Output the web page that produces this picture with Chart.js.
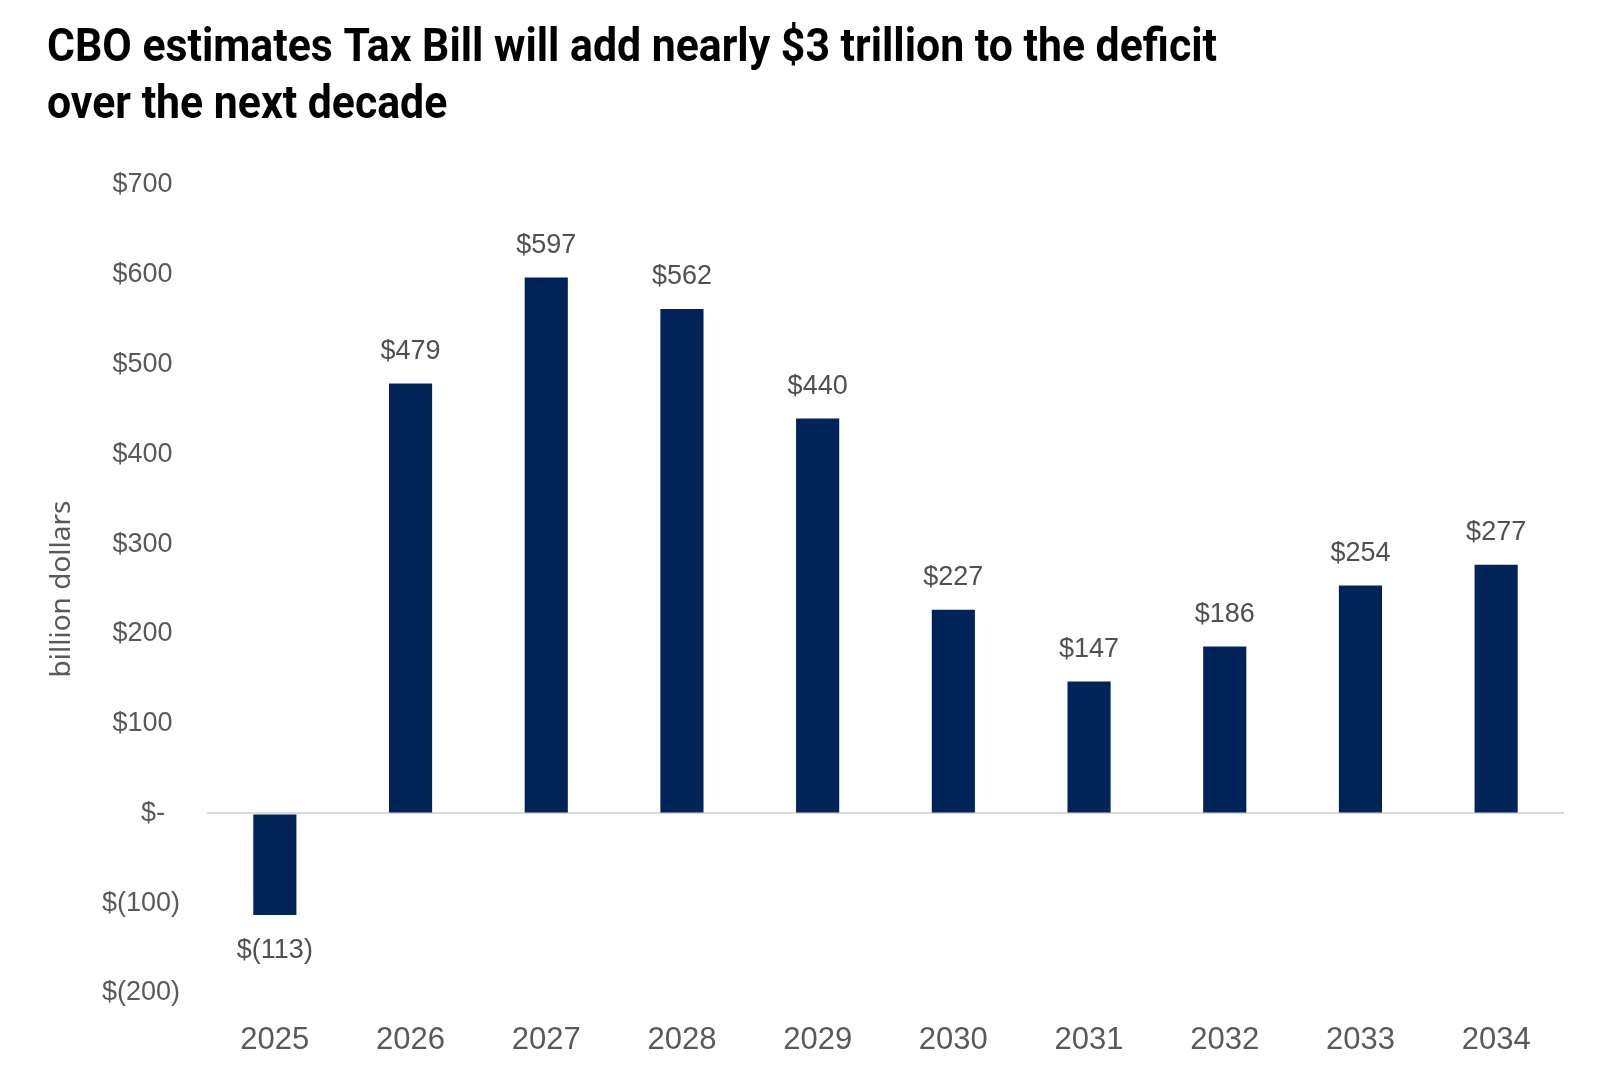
<!DOCTYPE html>
<html>
<head>
<meta charset="utf-8">
<script src="https://cdn.jsdelivr.net/npm/chart.js@4.4.1/dist/chart.umd.min.js"></script>
<style>
  html, body { margin: 0; padding: 0; background: #fff; }
  #wrap { width: 1600px; height: 1079px; }
</style>
</head>
<body>
<div id="wrap"><canvas id="chart"></canvas></div>
<script>
const years = ["2025", "2026", "2027", "2028", "2029", "2030", "2031", "2032", "2033", "2034"];
const deficitAdded = [-113, 479, 597, 562, 440, 227, 147, 186, 254, 277];
const titleLines = [
    "CBO estimates Tax Bill will add nearly $3 trillion to the deficit",
    "over the next decade",
];
const axisTitle = "billion dollars";

const textGray = "#595959";
const barColor = "#002458";

function money(v) {
    if (v === 0) return "$-  ";
    if (v < 0) return "$(" + (-v) + ")";
    return "$" + v + " ";
}

// title drawn by hand so it can be squeezed like a narrow font
const narrowTitle = {
    id: 'narrowTitle',
    afterDraw(chart) {
        const ctx = chart.ctx;
        ctx.save();
        ctx.font = 'bold 46px Roboto, "Liberation Sans", sans-serif';
        ctx.fillStyle = '#000';
        ctx.textAlign = 'left';
        ctx.textBaseline = 'alphabetic';
        ctx.translate(47, 0);
        ctx.scale(0.93, 1);
        ctx.fillText(titleLines[0], 0, 61);
        ctx.fillText(titleLines[1], 0, 118);
        ctx.restore();
    }
};

// labels above / below each bar
const barLabels = {
    id: 'barLabels',
    afterDatasetsDraw(chart) {
        const ctx = chart.ctx;
        const meta = chart.getDatasetMeta(0);
        ctx.save();
        ctx.font = '27px "Liberation Sans", Arial, sans-serif';
        ctx.fillStyle = "#505050";
        ctx.textAlign = 'center';
        ctx.textBaseline = 'middle';
        meta.data.forEach((bar, i) => {
            const v = deficitAdded[i];
            const txt = v < 0 ? "$(" + (-v) + ")" : "$" + v;
            const y = v < 0 ? bar.y + 36 : bar.y - 32;
            ctx.fillText(txt, bar.x, y);
        });
        ctx.restore();
    }
};

const ctx = document.getElementById('chart').getContext('2d');
new Chart(ctx, {
    type: 'bar',
    data: {
        labels: years,
        datasets: [{
            data: deficitAdded,
            backgroundColor: barColor,
            borderWidth: 0,
            categoryPercentage: 1,
            barPercentage: 0.318,
        }],
    },
    plugins: [barLabels, narrowTitle],
    options: {
        responsive: true,
        maintainAspectRatio: false,
        animation: false,
        layout: {
            padding: { left: 47, right: 36, top: 185, bottom: 0 },
        },
        plugins: {
            legend: { display: false },
            tooltip: { enabled: false },
            title: { display: false },
        },
        scales: {
            x: {
                grid: { display: false },
                border: { display: false },
                ticks: {
                    color: textGray,
                    padding: 21,
                    font: { family: '"Liberation Sans", Arial, sans-serif', size: 31 },
                },
                afterFit(scale) { scale.height = 86; },
            },
            y: {
                min: -200,
                max: 700,
                border: { display: false },
                grid: {
                    drawTicks: false,
                    lineWidth: 2,
                    color: c => c.tick && c.tick.value === 0 ? '#d9d9d9' : 'rgba(0,0,0,0)',
                },
                ticks: {
                    stepSize: 100,
                    color: textGray,
                    padding: 27,
                    font: { family: '"Liberation Sans", Arial, sans-serif', size: 27 },
                    callback: v => money(v),
                },
                title: {
                    display: true,
                    text: axisTitle,
                    color: textGray,
                    padding: 0,
                    font: { family: '"Noto Sans", sans-serif', size: 28, lineHeight: 1.1 },
                },
                afterFit(scale) { scale.width = 160; },
            },
        },
    },
});
</script>
</body>
</html>
